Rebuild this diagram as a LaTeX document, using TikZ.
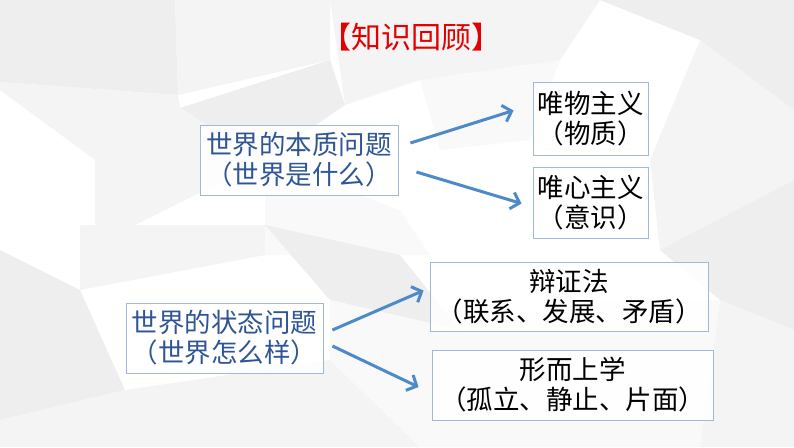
\documentclass[tikz,border=0pt]{standalone}
\usepackage{fontspec}
\newfontfamily\cjk{Noto Sans CJK SC}
\usetikzlibrary{arrows.meta}
\definecolor{bordc}{RGB}{160,185,214}
\definecolor{arrc}{RGB}{78,138,200}
\definecolor{bluetext}{RGB}{47,85,151}
\definecolor{titlered}{RGB}{226,0,0}
\definecolor{bgA}{RGB}{238,238,238}
\definecolor{bgB}{RGB}{244,244,244}
\definecolor{bgC}{RGB}{249,249,249}
\tikzset{
  box/.style={draw=bordc, line width=0.9pt, fill=white, fill opacity=0.85, text opacity=1,
    align=center, inner sep=0pt, font=\cjk\fontsize{26.5}{30}\selectfont},
  bluebox/.style={box, text=bluetext},
  blackbox/.style={box, text=black},
  arr/.style={draw=arrc, line width=3pt, -{Straight Barb[length=8pt,width=17pt,line width=3pt]}}
}
\begin{document}
\begin{tikzpicture}[x=1pt,y=-1pt]
\useasboundingbox (0,0) rectangle (794,447);
\fill[white] (0,0) rectangle (794,447);
% low-poly background
\fill[bgA] (0,0) -- (175,0) -- (178,95) -- (0,82) -- cycle;
\fill[bgB] (0,82) -- (178,95) -- (180,108) -- (95,160) -- (0,90) -- cycle;
\fill[bgB] (175,0) -- (330,0) -- (330,60) -- (178,95) -- cycle;
\fill[bgA] (180,108) -- (330,60) -- (345,105) -- (265,160) -- (200,140) -- cycle;
\fill[bgB] (95,160) -- (180,108) -- (265,160) -- (95,245) -- cycle;
\fill[bgA] (0,250) -- (80,290) -- (125,390) -- (0,420) -- cycle;
\fill[bgB] (80,225) -- (265,225) -- (265,255) -- (80,290) -- cycle;
\fill[bgC] (265,160) -- (400,210) -- (430,255) -- (265,255) -- cycle;
\fill[bgA] (265,225) -- (400,255) -- (460,330) -- (330,300) -- cycle;
\fill[bgB] (330,0) -- (600,0) -- (560,60) -- (420,80) -- (345,105) -- cycle;
\fill[bgC] (420,80) -- (560,60) -- (530,140) -- (440,150) -- cycle;
\fill[bgA] (600,0) -- (794,0) -- (794,110) -- (700,40) -- cycle;
\fill[bgB] (700,40) -- (794,110) -- (794,180) -- (660,250) -- (650,160) -- cycle;
\fill[bgA] (660,250) -- (794,180) -- (794,330) -- (720,300) -- cycle;
\fill[bgB] (720,300) -- (794,330) -- (794,447) -- (700,447) -- cycle;
\fill[bgC] (460,330) -- (600,300) -- (720,300) -- (700,447) -- (540,447) -- cycle;
\fill[bgB] (125,390) -- (330,360) -- (420,447) -- (0,447) -- (0,420) -- cycle;
\fill[bgC] (330,300) -- (460,330) -- (540,447) -- (420,447) -- (330,360) -- cycle;

% title
\node[font=\cjk\fontsize{30}{34}\selectfont, text=titlered] (title) at (411,37) {【知识回顾】};

% boxes
\node[bluebox, minimum width=198pt, minimum height=70pt] (essence) at (299,160)
  {世界的本质问题\\（世界是什么）};
\node[blackbox, minimum width=115pt, minimum height=73pt] (materialism) at (590.5,118.5)
  {唯物主义\\（物质）};
\node[blackbox, minimum width=115pt, minimum height=71pt] (idealism) at (590.5,202.5)
  {唯心主义\\（意识）};
\node[bluebox, minimum width=197pt, minimum height=70pt] (state) at (224.5,338)
  {世界的状态问题\\（世界怎么样）};
\node[blackbox, minimum width=278pt, minimum height=69pt] (dialectics) at (569,296.5)
  {辩证法\\（联系、发展、矛盾）};
\node[blackbox, minimum width=281pt, minimum height=70pt] (metaphysics) at (572.5,385)
  {形而上学\\（孤立、静止、片面）};

% arrows
\draw[arr] ([xshift=12pt,yshift=17pt]essence.east) -- ([xshift=-19pt,yshift=8pt]materialism.west);
\draw[arr] ([xshift=18pt,yshift=-12pt]essence.east) -- ([xshift=-11pt,yshift=-1pt]idealism.west);
\draw[arr] ([xshift=9pt,yshift=8pt]state.east) -- ([xshift=-6pt,yshift=6pt]dialectics.west);
\draw[arr] ([xshift=9pt,yshift=-8pt]state.east) -- ([xshift=-13pt,yshift=-2pt]metaphysics.west);
\end{tikzpicture}
\end{document}
